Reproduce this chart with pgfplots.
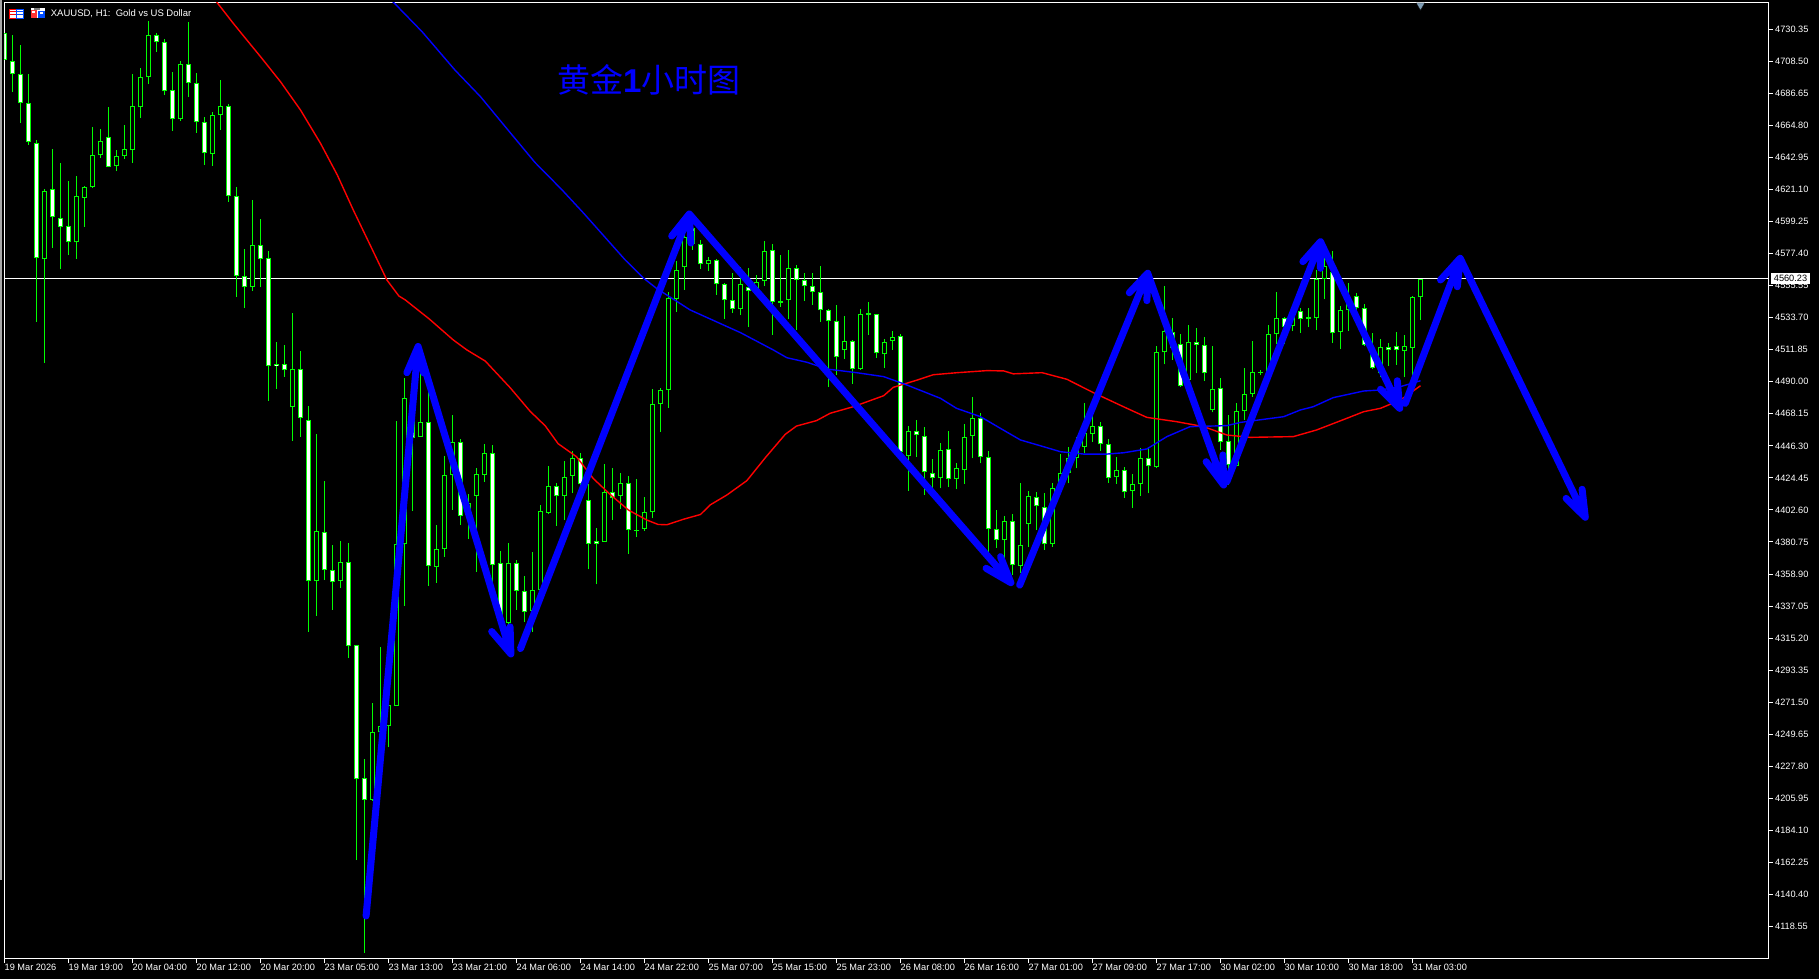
\documentclass[border=0pt]{standalone}
\usepackage{pgfplots}
\usepackage{pgfplotstable}
\usepackage{fontspec}
\pgfplotsset{compat=1.18}
\setmainfont{Liberation Sans}
\newfontfamily\cjk{Noto Sans CJK SC}
\definecolor{candle}{HTML}{00FF00}
\definecolor{arrowblue}{HTML}{0000FF}
\definecolor{mared}{HTML}{FF0000}
\definecolor{shiftmark}{HTML}{7F9DB5}

% XAUUSD H1 candles
\pgfplotstableread{
i o h l c
0 4727.6 4727.6 4709.4 4709.4
1 4708.9 4726.5 4687.8 4699.6
2 4699.6 4719.6 4666.7 4679.9
3 4679.9 4699.9 4651.5 4653.3
4 4652.6 4654.9 4531.0 4574.2
5 4573.5 4621.4 4503.0 4619.9
6 4621.2 4648.7 4581.4 4602.1
7 4601.4 4638.9 4566.7 4595.8
8 4596.0 4626.9 4576.4 4585.1
9 4585.1 4630.3 4573.9 4616.5
10 4615.5 4623.5 4595.8 4622.6
11 4622.6 4663.9 4622.4 4644.4
12 4644.4 4662.4 4642.8 4654.0
13 4656.7 4677.4 4636.2 4636.2
14 4636.9 4648.0 4633.7 4643.7
15 4643.7 4665.1 4642.1 4648.5
16 4647.8 4699.9 4639.4 4677.8
17 4677.1 4703.7 4670.1 4697.6
18 4697.6 4736.0 4693.0 4726.2
19 4726.2 4728.1 4715.1 4721.5
20 4721.5 4723.5 4685.5 4688.0
21 4688.7 4701.2 4661.2 4668.9
22 4668.9 4708.5 4668.0 4706.5
23 4706.5 4735.3 4684.4 4693.5
24 4693.5 4700.3 4659.9 4666.9
25 4666.9 4670.3 4638.0 4645.8
26 4645.1 4674.2 4637.4 4671.7
27 4671.7 4695.8 4661.9 4677.8
28 4677.8 4679.4 4612.8 4616.5
29 4616.5 4622.6 4548.0 4561.9
30 4561.9 4580.3 4540.5 4554.4
31 4554.4 4614.0 4552.1 4583.0
32 4583.0 4600.8 4554.4 4573.5
33 4574.2 4579.0 4477.1 4500.5
34 4501.9 4516.9 4485.3 4500.5
35 4501.9 4514.8 4493.5 4497.8
36 4472.6 4536.7 4449.8 4498.5
37 4498.5 4511.0 4452.6 4465.1
38 4463.9 4473.4 4319.7 4353.9
39 4353.9 4454.5 4330.5 4388.4
40 4387.6 4422.1 4354.7 4361.5
41 4361.5 4379.0 4334.5 4353.4
42 4353.9 4381.7 4349.3 4367.4
43 4367.4 4380.1 4301.9 4309.7
44 4310.2 4310.2 4163.8 4219.1
45 4219.7 4232.6 4100.5 4205.1
46 4205.1 4270.9 4204.3 4250.9
47 4250.9 4309.4 4219.1 4255.0
48 4255.0 4274.4 4241.2 4269.3
49 4269.1 4463.2 4269.1 4379.4
50 4379.4 4492.8 4337.3 4478.7
51 4478.7 4479.8 4401.9 4451.4
52 4452.6 4496.4 4452.6 4462.3
53 4462.3 4484.8 4351.0 4364.6
54 4363.9 4392.3 4353.0 4375.7
55 4375.7 4439.4 4370.7 4426.4
56 4426.4 4467.3 4402.6 4448.7
57 4448.7 4451.0 4392.4 4398.7
58 4398.7 4413.5 4382.8 4407.1
59 4412.3 4431.0 4360.5 4426.9
60 4426.7 4447.8 4421.9 4441.3
61 4441.3 4446.9 4349.9 4365.3
62 4366.1 4374.7 4325.6 4328.3
63 4325.6 4380.1 4322.9 4366.1
64 4366.1 4368.2 4334.5 4347.2
65 4347.2 4357.4 4326.2 4333.2
66 4333.7 4373.6 4319.7 4347.7
67 4347.7 4406.0 4347.2 4401.7
68 4400.6 4432.7 4399.8 4418.6
69 4418.6 4421.3 4391.7 4411.9
70 4411.9 4436.2 4395.7 4425.4
71 4425.9 4442.9 4414.0 4438.3
72 4438.3 4441.6 4409.2 4420.0
73 4409.2 4420.0 4362.0 4379.3
74 4381.7 4390.3 4351.8 4379.5
75 4380.9 4434.0 4380.9 4415.1
76 4415.1 4431.3 4395.7 4410.5
77 4412.4 4427.5 4403.3 4421.3
78 4421.3 4425.9 4372.8 4388.7
79 4389.2 4423.5 4384.1 4388.2
80 4389.8 4411.6 4388.5 4400.9
81 4401.0 4485.1 4396.9 4474.6
82 4474.6 4485.5 4456.0 4484.2
83 4484.2 4551.5 4472.3 4546.9
84 4546.7 4572.4 4537.8 4566.0
85 4568.0 4591.2 4552.6 4589.0
86 4594.6 4594.6 4579.9 4583.7
87 4583.7 4586.7 4566.9 4570.1
88 4570.1 4575.3 4565.5 4572.8
89 4572.8 4573.5 4549.2 4556.4
90 4556.4 4557.1 4532.8 4545.5
91 4545.5 4564.4 4537.1 4539.4
92 4539.4 4568.5 4535.5 4556.4
93 4554.8 4567.4 4527.6 4551.7
94 4552.6 4562.8 4552.6 4558.3
95 4558.5 4586.0 4555.3 4578.9
96 4579.6 4583.9 4521.9 4544.2
97 4544.8 4576.5 4541.2 4543.9
98 4545.5 4579.9 4532.8 4567.3
99 4567.3 4569.6 4525.3 4559.2
100 4559.2 4564.4 4545.1 4555.1
101 4555.1 4563.9 4542.4 4551.0
102 4551.0 4568.9 4531.0 4538.7
103 4538.7 4539.9 4486.7 4531.2
104 4531.2 4542.4 4494.6 4506.7
105 4511.4 4534.8 4505.5 4517.6
106 4517.6 4518.5 4488.5 4498.5
107 4498.5 4539.6 4498.0 4536.0
108 4536.7 4544.2 4521.9 4535.8
109 4536.0 4536.2 4506.4 4509.4
110 4508.7 4518.9 4499.6 4516.9
111 4517.6 4524.6 4511.7 4520.3
112 4521.0 4522.3 4440.1 4441.9
113 4439.2 4459.8 4415.7 4456.2
114 4456.2 4463.9 4438.9 4453.5
115 4452.8 4458.9 4413.0 4428.2
116 4427.6 4437.1 4417.3 4424.2
117 4424.2 4448.0 4417.3 4443.2
118 4443.9 4456.2 4418.5 4423.5
119 4423.5 4434.4 4416.7 4431.0
120 4429.6 4461.2 4420.3 4452.1
121 4452.8 4479.4 4437.8 4465.1
122 4465.1 4468.5 4434.4 4438.5
123 4438.5 4442.6 4367.3 4389.4
124 4389.4 4402.6 4376.9 4381.9
125 4381.9 4398.5 4369.6 4394.8
126 4394.8 4399.8 4358.2 4364.8
127 4364.1 4420.7 4359.4 4378.5
128 4392.8 4415.5 4377.6 4411.9
129 4411.2 4414.6 4388.9 4405.1
130 4404.8 4413.9 4375.3 4379.1
131 4379.1 4420.7 4377.6 4417.3
132 4417.3 4440.7 4417.3 4427.6
133 4427.6 4445.7 4420.7 4437.8
134 4437.8 4452.6 4431.0 4443.5
135 4445.7 4475.3 4441.2 4454.8
136 4454.2 4467.3 4449.2 4459.6
137 4459.6 4462.8 4443.0 4447.3
138 4447.3 4450.7 4421.2 4424.2
139 4424.8 4438.5 4420.5 4429.6
140 4429.6 4432.1 4411.0 4414.6
141 4415.3 4426.9 4404.1 4420.0
142 4420.0 4445.1 4412.3 4437.8
143 4437.8 4445.7 4413.9 4432.3
144 4431.7 4514.4 4431.0 4510.1
145 4510.1 4555.3 4501.9 4524.4
146 4523.7 4533.2 4504.8 4512.8
147 4515.5 4522.3 4486.7 4486.9
148 4491.2 4528.5 4488.9 4516.9
149 4516.9 4526.4 4495.8 4514.8
150 4514.8 4520.3 4490.7 4495.8
151 4470.5 4514.4 4469.2 4484.8
152 4485.5 4492.3 4443.5 4448.7
153 4449.4 4467.3 4419.6 4433.2
154 4432.8 4475.3 4432.5 4469.8
155 4469.8 4499.2 4463.9 4481.4
156 4481.4 4517.8 4479.8 4496.4
157 4496.9 4498.0 4494.6 4496.0
158 4496.9 4528.5 4494.6 4522.3
159 4522.3 4551.0 4515.7 4533.3
160 4533.3 4534.4 4515.7 4527.6
161 4527.8 4541.7 4524.6 4534.4
162 4538.0 4540.1 4523.5 4532.6
163 4533.9 4540.1 4527.6 4532.6
164 4533.2 4566.2 4525.3 4559.8
165 4559.8 4575.3 4546.2 4569.2
166 4565.1 4579.4 4516.7 4523.0
167 4523.7 4541.7 4512.3 4538.7
168 4538.7 4557.1 4524.6 4543.5
169 4548.2 4550.3 4539.0 4540.1
170 4540.1 4543.0 4514.4 4514.8
171 4509.4 4523.0 4498.5 4499.2
172 4495.8 4519.2 4493.0 4513.5
173 4513.5 4516.7 4501.0 4511.4
174 4514.2 4523.7 4501.6 4511.4
175 4510.7 4521.7 4493.0 4514.2
176 4512.8 4548.5 4491.2 4547.6
177 4547.6 4560.3 4532.1 4560.3
}\candles

% moving averages
\pgfplotstableread{
x y
26.3 4750.5
28.6 4734.4
30.3 4723.0
32 4711.7
34.5 4694.6
37 4675.3
39.5 4652.6
41.6 4631.0
43.6 4607.1
45.7 4583.3
47.8 4559.4
49.3 4548.5
50.1 4545.8
53.1 4532.8
56.1 4518.5
57.8 4511.7
60.1 4504.1
63.2 4486.0
65.7 4469.9
67.6 4459.9
69.2 4447.8
71.5 4438.9
73.6 4424.0
75.7 4413.2
78 4402.5
80.3 4395.7
81.7 4392.7
82.8 4392.5
84.9 4396.3
87 4399.5
88.2 4406
90.3 4412.8
92.8 4422.6
95.1 4438.2
97.6 4454.2
99 4459.8
101.5 4463.5
103.2 4468.5
106.1 4473
109.9 4480.5
111.1 4486.2
114.1 4491.2
116.1 4494.8
119.1 4496.2
122.8 4497.6
124.9 4497.4
126.1 4495.4
129.7 4496.2
132.8 4491.7
136.1 4482.6
140.3 4471.9
142.8 4465.7
146.5 4462.8
149.9 4459.4
152.8 4453.7
155.7 4452.1
161.1 4452.6
164 4457.1
167.8 4465.1
169.9 4469.6
172 4471.9
174.5 4477.6
177 4487.3
}\maslow

\pgfplotstableread{
x y
48.4 4750
52.2 4728.7
56.3 4702.6
59.5 4684.4
62.6 4663.9
66.3 4639.6
69.7 4620.8
72.4 4604.9
77.6 4573.0
79.9 4560.6
81.5 4553.7
85.7 4539.0
92 4523.5
96.1 4511.7
97.8 4506.4
100.3 4503.3
102.8 4498.7
106.5 4496.2
109.9 4493.5
112.8 4487.8
117 4478.7
119 4471.9
122 4466.2
124.5 4458.2
127 4450.3
129.9 4445.7
132 4442.3
134.9 4440.7
137.8 4440.7
139.9 4441.6
142.8 4444.2
145.3 4452.6
148.2 4459.4
152.8 4460.1
154.5 4462.3
159.9 4466.2
162 4470.8
163.6 4473.0
166.1 4479.2
169.9 4483.7
172 4484.4
174.5 4486.7
177 4490.7
}\mafast

% hand drawn arrows, nan breaks the stroke
\pgfplotstableread{
x y
45.2 4125.7
51.7 4514
50.3 4496.2
51.7 4514
52.4 4496
51.7 4514
63.3 4304.4
60.9 4319.7
63.3 4304.4
63.2 4322.9
nan nan
64.5 4308.1
85.6 4604.4
83.4 4589.4
85.6 4604.4
85.8 4584.6
85.6 4604.4
125.8 4353
122.7 4362.8
125.8 4353
124.5 4370.7
nan nan
126.9 4351.4
142.9 4564
140.6 4550.7
142.9 4564
142.8 4545.3
142.9 4564
152.4 4419.6
150.2 4435.5
152.4 4419.6
152.3 4440.1
nan nan
152.8 4421.9
164.5 4585.5
162.3 4571.9
164.5 4585.5
164.5 4567.4
164.5 4585.5
174.4 4471.9
172 4484.9
174.4 4471.9
174.1 4490.7
nan nan
175.1 4475.3
181.96 4574.2
179.5 4559.4
181.96 4574.2
181.6 4554.8
181.96 4574.2
197.6 4397.6
195.2 4410.5
197.6 4397.6
197.2 4416.7
}\arrows

\begin{document}
\begin{tikzpicture}
\fill[black] (0,0) rectangle (1819pt,979pt);
\fill[gray!70] (0,99pt) rectangle (1.5pt,979pt);
\begin{axis}[
    at={(4.5pt,20.5pt)},
    anchor=south west,
    scale only axis,
    width=1764pt,
    height=956pt,
    xmin=0, xmax=220.5,
    ymin=4096.73, ymax=4748.63,
    axis line style={white,line width=1pt},
    tick style={white,line width=1pt},
    tick align=outside,
    major tick length=4.5pt,
    xtick pos=bottom,
    ytick pos=right,
    yticklabel pos=right,
    tick label style={font=\fontsize{9.2}{10}\selectfont,text=white},
    xtick={0,8,...,176},
    xticklabels={19 Mar 2026,19 Mar 19:00,20 Mar 04:00,20 Mar 12:00,20 Mar 20:00,23 Mar 05:00,23 Mar 13:00,23 Mar 21:00,24 Mar 06:00,24 Mar 14:00,24 Mar 22:00,25 Mar 07:00,25 Mar 15:00,25 Mar 23:00,26 Mar 08:00,26 Mar 16:00,27 Mar 01:00,27 Mar 09:00,27 Mar 17:00,30 Mar 02:00,30 Mar 10:00,30 Mar 18:00,31 Mar 03:00},
    xticklabel style={anchor=north west,inner xsep=0pt,inner ysep=1pt},
    ytick={4730.35,4708.50,4686.65,4664.80,4642.95,4621.10,4599.25,4577.40,4555.55,4533.70,4511.85,4490.00,4468.15,4446.30,4424.45,4402.60,4380.75,4358.90,4337.05,4315.20,4293.35,4271.50,4249.65,4227.80,4205.95,4184.10,4162.25,4140.40,4118.55},
    yticklabel style={anchor=west,inner xsep=2pt,
        /pgf/number format/.cd,fixed,fixed zerofill,precision=2,1000 sep={},assume math mode=true},
    scaled y ticks=false,
    unbounded coords=jump,
]
% current price line
\addplot[white,line width=1pt,forget plot] coordinates {(0,4560.23) (220.5,4560.23)};

% wicks
\addplot[draw=none,mark=none,forget plot,
    error bars/.cd,y dir=plus,y explicit,error mark=none,
    error bar style={draw=candle,line width=1pt}]
    table[x=i,y=l,y error plus expr=\thisrow{h}-\thisrow{l}] {\candles};
% body outline
\addplot[draw=none,mark=none,forget plot,
    error bars/.cd,y dir=plus,y explicit,error mark=none,
    error bar style={draw=candle,line width=5pt}]
    table[x=i,y expr={min(\thisrow{o},\thisrow{c})},y error plus expr={abs(\thisrow{o}-\thisrow{c})}] {\candles};
% bull bodies are hollow
\addplot[draw=none,mark=none,forget plot,
    y filter/.expression={\thisrow{c}>=\thisrow{o} ? y : nan},
    unbounded coords=discard,
    error bars/.cd,y dir=plus,y explicit,error mark=none,
    error bar style={draw=black,line width=3pt}]
    table[x=i,y expr={min(\thisrow{o},\thisrow{c})+0.68},y error plus expr={max(abs(\thisrow{o}-\thisrow{c})-1.36,0)}] {\candles};
% bear bodies are white
\addplot[draw=none,mark=none,forget plot,
    y filter/.expression={\thisrow{c}<\thisrow{o} ? y : nan},
    unbounded coords=discard,
    error bars/.cd,y dir=plus,y explicit,error mark=none,
    error bar style={draw=white,line width=3pt}]
    table[x=i,y expr={min(\thisrow{o},\thisrow{c})+0.68},y error plus expr={max(abs(\thisrow{o}-\thisrow{c})-1.36,0)}] {\candles};

\addplot[mared,line width=1.4pt,forget plot] table[x=x,y=y] {\maslow};
\addplot[arrowblue,line width=1.4pt,forget plot] table[x=x,y=y] {\mafast};
\addplot[arrowblue,line width=7pt,line cap=round,line join=round,forget plot] table[x=x,y=y] {\arrows};
% last bar marker
\addplot[only marks,mark=triangle*,mark size=5pt,mark options={rotate=180,fill=shiftmark,draw=none},forget plot] coordinates {(177,4746.6)};
\end{axis}

\begin{scope}[x=1pt,y=-1pt,yshift=979pt]
% price tag
\fill[white] (1771,273) rectangle (1810,284.5);
\node[text=black,inner sep=0pt,font=\fontsize{9.2}{10}\selectfont] at (1790.5,278.8) {4560.23};
% header
\node[anchor=west,inner sep=0pt,text=white,font=\fontsize{9.5}{10}\selectfont] at (50.7,13.2) {XAUUSD, H1:\ \ Gold vs US Dollar};
\node[anchor=west,inner sep=0pt,text=arrowblue] at (557,80) {\fontsize{33}{36}\selectfont\cjk 黄金\fontspec{Liberation Sans Bold}1\cjk 小时图};
% chart window icons
\fill[white] (9.5,9) rectangle (23.5,18.5);
\draw[mared,line width=0.8pt] (9.5,9) rectangle (16,18.5);
\draw[arrowblue!70!cyan,line width=0.8pt] (16,9) rectangle (23.5,18.5);
\foreach \yy in {11.7,14.5} {
  \draw[mared,line width=0.8pt] (10,\yy) -- (16,\yy);
  \draw[arrowblue!70!cyan,line width=0.8pt] (16,\yy) -- (23,\yy);
}
\fill[white] (30.5,8.5) rectangle (44.5,18.5);
\fill[mared!80] (30.5,10) rectangle (36.5,18.5);
\fill[arrowblue!70!cyan] (38,11) rectangle (44.5,18.5);
\fill[white] (32,11.5) rectangle (35,13.5);
\fill[white] (40,12.5) rectangle (43,14.5);
\fill[gray] (34,8.5) rectangle (40,10.5);
\end{scope}
\end{tikzpicture}
\end{document}
